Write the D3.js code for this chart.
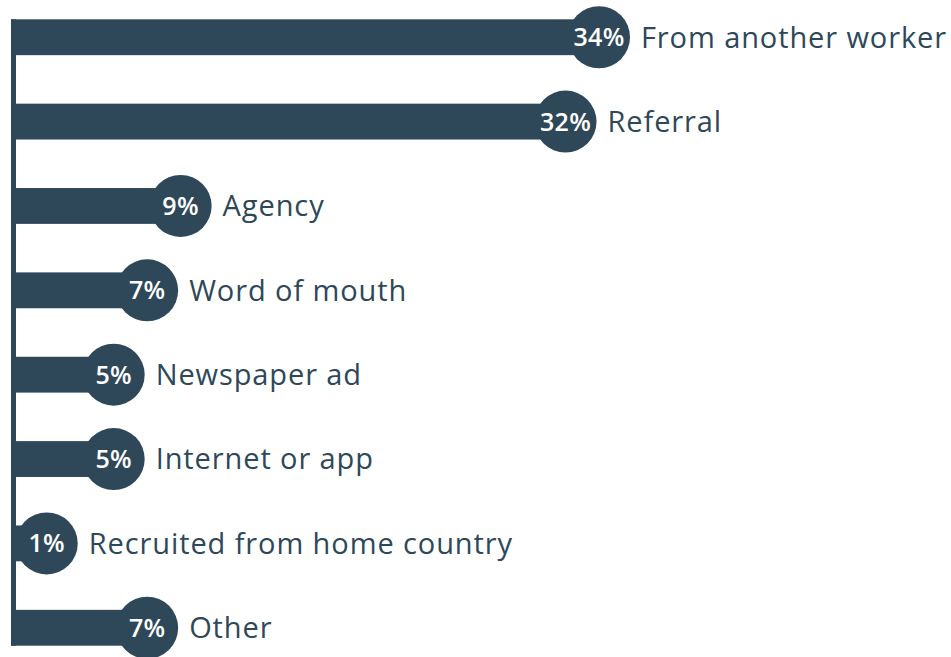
<!DOCTYPE html>
<html>
<head>
<meta charset="utf-8">
<script src="https://cdn.jsdelivr.net/npm/d3@7"></script>
<style>
  html, body { margin: 0; padding: 0; background: #fff; }
  svg { display: block; }
</style>
</head>
<body>
<script>
const categories = ["From another worker", "Referral", "Agency", "Word of mouth", "Newspaper ad", "Internet or app", "Recruited from home country", "Other"];
const values = [34, 32, 9, 7, 5, 5, 1, 7];
const valueLabels = ["34%", "32%", "9%", "7%", "5%", "5%", "1%", "7%"];

const W = 951, H = 657;
const color = "#2e4859";
const svg = d3.select("body").append("svg").attr("width", W).attr("height", H);

const x = d3.scaleLinear().domain([0, 34]).range([30, 599]);
const y = d3.scaleBand().domain(categories).range([-6, 671]).paddingInner(0.575).paddingOuter(0.3);

const x0 = 11;
const r = 31;

const rows = categories.map((c, i) => ({ c, v: values[i], lab: valueLabels[i] }));

// vertical axis line
svg.append("rect")
  .attr("x", x0).attr("y", y(categories[0]))
  .attr("width", 5)
  .attr("height", y(categories[categories.length - 1]) + y.bandwidth() - y(categories[0]))
  .attr("fill", color);

const g = svg.selectAll("g.row").data(rows).join("g").attr("class", "row");

g.append("rect")
  .attr("x", x0)
  .attr("y", d => y(d.c))
  .attr("width", d => x(d.v) - x0)
  .attr("height", y.bandwidth())
  .attr("fill", color);

g.append("circle")
  .attr("cx", d => x(d.v))
  .attr("cy", d => y(d.c) + y.bandwidth() / 2)
  .attr("r", r)
  .attr("fill", color);

g.append("text")
  .attr("x", d => x(d.v))
  .attr("y", d => y(d.c) + y.bandwidth() / 2)
  .attr("dy", "0.36em")
  .attr("text-anchor", "middle")
  .attr("fill", "#ffffff")
  .attr("font-family", "'Open Sans', sans-serif")
  .attr("font-weight", 600)
  .attr("font-size", 25)
  .attr("letter-spacing", 0.3)
  .text(d => d.lab);

g.append("text")
  .attr("x", d => x(d.v) + r + 11)
  .attr("y", d => y(d.c) + y.bandwidth() / 2)
  .attr("dy", "0.36em")
  .attr("fill", color)
  .attr("font-family", "'Open Sans', sans-serif")
  .attr("font-size", 29)
  .attr("letter-spacing", 0.9)
  .text(d => d.c);
</script>
</body>
</html>
